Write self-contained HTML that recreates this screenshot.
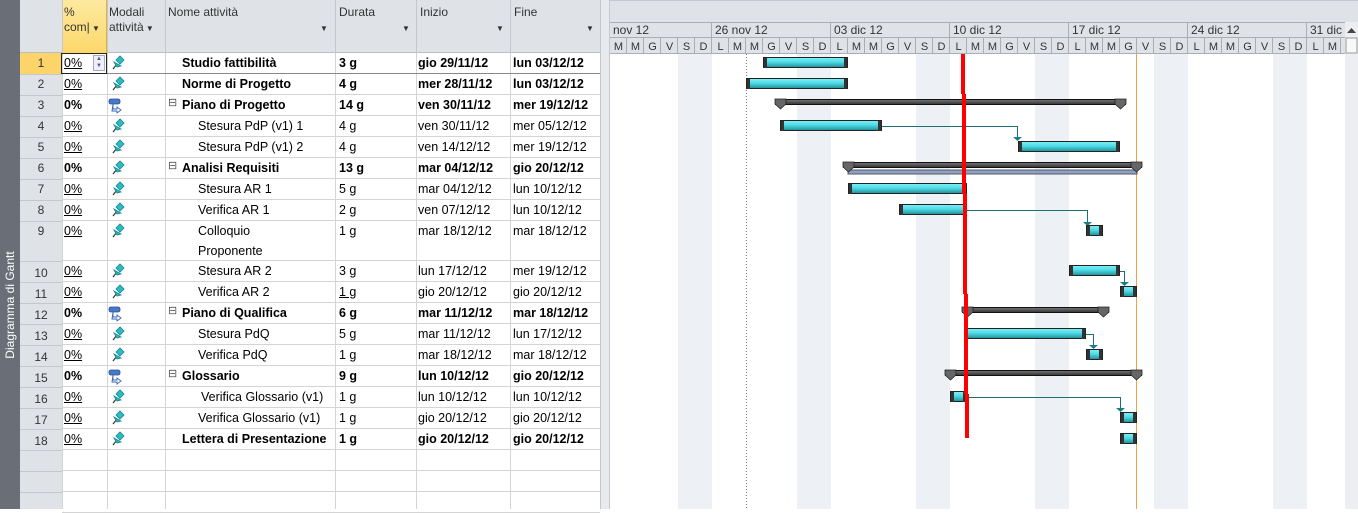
<!DOCTYPE html>
<html><head><meta charset="utf-8">
<style>
*{margin:0;padding:0;box-sizing:border-box}
body{width:1358px;height:509px;overflow:hidden;background:#fff;font-family:"Liberation Sans",sans-serif;font-size:12.5px;color:#000;position:relative}
.a{position:absolute;white-space:nowrap}
.side{left:0;top:0;width:20px;height:509px;background:#6a6e76}
.side span{position:absolute;left:10px;top:305px;transform:translate(-50%,-50%) rotate(-90deg);color:#fff;font-size:12px;white-space:nowrap}
.hdr{left:20px;top:0;width:580px;height:53px;background:#dfe3e8;border-bottom:1px solid #b9bec6}
.hl{position:absolute;top:0;height:53px;border-left:1px solid #c4c8ce}
.ht{position:absolute;top:5px;font-size:12px;color:#333;line-height:15px}
.dd{position:absolute;top:24px;font-size:8px;color:#333}
.num{left:20px;width:42px;background:#dfe3e8;text-align:center;color:#333;font-size:12px}
.row{position:absolute;left:62px;width:538px;border-bottom:1px solid #d4d4d4}
.c{position:absolute;top:3px;font-size:12.5px}
.b{font-weight:bold}
.u{text-decoration:underline}
.vl{position:absolute;top:53px;height:456px;border-left:1px solid #d4d4d4}
.nl{position:absolute;left:20px;width:42px;border-top:1px solid #c4c8ce}
</style></head><body>
<div class="a side"><span>Diagramma di Gantt</span></div>
<div class="a hdr">
 <div style="position:absolute;left:42px;top:0;width:45px;height:53px;background:linear-gradient(#fde9a0,#fcd86a);border-left:1px solid #e0b040;border-right:1px solid #e0b040"></div>
 <div class="hl" style="left:42px"></div><div class="hl" style="left:87px"></div><div class="hl" style="left:145px"></div><div class="hl" style="left:315px"></div><div class="hl" style="left:396px"></div><div class="hl" style="left:490px"></div><div class="hl" style="left:580px"></div>
 <div class="ht" style="left:44px">%<br>com|<span style="font-size:8px"> ▼</span></div>
 <div class="ht" style="left:89px">Modali<br>attività<span style="font-size:8px"> ▼</span></div>
 <div class="ht" style="left:148px">Nome attività</div><div class="dd" style="left:300px">▼</div>
 <div class="ht" style="left:319px">Durata</div><div class="dd" style="left:382px">▼</div>
 <div class="ht" style="left:400px">Inizio</div><div class="dd" style="left:476px">▼</div>
 <div class="ht" style="left:494px">Fine</div><div class="dd" style="left:566px">▼</div>
</div>
<div class="a num" style="top:53px;height:456px"></div>
<div class="a" style="left:20px;top:53px;width:42px;height:21px;background:#fcd46a"></div>
<div class="nl" style="top:74px"></div><div class="nl" style="top:95px"></div><div class="nl" style="top:116px"></div><div class="nl" style="top:137px"></div><div class="nl" style="top:158px"></div><div class="nl" style="top:179px"></div><div class="nl" style="top:200px"></div><div class="nl" style="top:221px"></div><div class="nl" style="top:261px"></div><div class="nl" style="top:282px"></div><div class="nl" style="top:303px"></div><div class="nl" style="top:324px"></div><div class="nl" style="top:345px"></div><div class="nl" style="top:366px"></div><div class="nl" style="top:387px"></div><div class="nl" style="top:408px"></div><div class="nl" style="top:429px"></div><div class="nl" style="top:450px"></div><div class="nl" style="top:471px"></div><div class="nl" style="top:492px"></div>
<div class="a" style="left:600px;top:0;width:10px;height:509px;background:#e8eaed;border-left:1px solid #c4c8ce;border-right:1px solid #c4c8ce"></div>
<div class="vl" style="left:62px"></div><div class="vl" style="left:107px"></div><div class="vl" style="left:165px"></div><div class="vl" style="left:335px"></div><div class="vl" style="left:416px"></div><div class="vl" style="left:510px"></div>

<svg width="0" height="0" style="position:absolute"><defs>
<g id="pin"><path d="M4 14 L8 9" stroke="#333" stroke-width="1.2"/><path d="M7 5 L11 1 L15 5 L11 9 Z M5 7 L12 11 L8 12 Z" fill="#2bbcc4" stroke="#15858c" stroke-width=".8"/></g>
<g id="sum"><rect x="2" y="1" width="11" height="5" rx="2" fill="#4a78c8" stroke="#2a4c90" stroke-width=".8"/><path d="M6 6 V11 H10 V9 L14 12 L10 15 V13 H5 Z" fill="#fff" stroke="#3a64b8" stroke-width=".9"/></g>
</defs></svg>

<div class="a" style="left:0;top:0;width:600px;height:509px">
<div class="row" style="top:53px;height:21px;border-bottom:1px solid #888"><div class="c u" style="left:2px">0%</div><div style="position:absolute;left:31px;top:2px;width:12px;height:16px;border:1px solid #aab;background:#eef;font-size:6px;line-height:7px;text-align:center;color:#557">▲<br>▼</div><div style="position:absolute;left:-1px;top:0;width:46px;height:21px;border:1px solid #222"></div><svg class="a" style="left:47px;top:2px" width="16" height="16"><use href="#pin"/></svg><div class="c b" style="left:120px">Studio fattibilità</div><div class="c b" style="left:277px">3 g</div><div class="c b" style="left:356px">gio 29/11/12</div><div class="c b" style="left:451px">lun 03/12/12</div></div>
<div class="row" style="top:74px;height:21px"><div class="c u" style="left:2px">0%</div><svg class="a" style="left:47px;top:2px" width="16" height="16"><use href="#pin"/></svg><div class="c b" style="left:120px">Norme di Progetto</div><div class="c b" style="left:277px">4 g</div><div class="c b" style="left:356px">mer 28/11/12</div><div class="c b" style="left:451px">lun 03/12/12</div></div>
<div class="row" style="top:95px;height:21px"><div class="c b" style="left:2px">0%</div><svg class="a" style="left:45px;top:3px" width="16" height="16"><use href="#sum"/></svg><div class="c" style="left:106px;top:1px;font-size:11px;color:#555">⊟</div><div class="c b" style="left:120px">Piano di Progetto</div><div class="c b" style="left:277px">14 g</div><div class="c b" style="left:356px">ven 30/11/12</div><div class="c b" style="left:451px">mer 19/12/12</div></div>
<div class="row" style="top:116px;height:21px"><div class="c u" style="left:2px">0%</div><svg class="a" style="left:47px;top:2px" width="16" height="16"><use href="#pin"/></svg><div class="c" style="left:136px">Stesura PdP (v1) 1</div><div class="c" style="left:277px">4 g</div><div class="c" style="left:356px">ven 30/11/12</div><div class="c" style="left:451px">mer 05/12/12</div></div>
<div class="row" style="top:137px;height:21px"><div class="c u" style="left:2px">0%</div><svg class="a" style="left:47px;top:2px" width="16" height="16"><use href="#pin"/></svg><div class="c" style="left:136px">Stesura PdP (v1) 2</div><div class="c" style="left:277px">4 g</div><div class="c" style="left:356px">ven 14/12/12</div><div class="c" style="left:451px">mer 19/12/12</div></div>
<div class="row" style="top:158px;height:21px"><div class="c b" style="left:2px">0%</div><svg class="a" style="left:47px;top:2px" width="16" height="16"><use href="#pin"/></svg><div class="c" style="left:106px;top:1px;font-size:11px;color:#555">⊟</div><div class="c b" style="left:120px">Analisi Requisiti</div><div class="c b" style="left:277px">13 g</div><div class="c b" style="left:356px">mar 04/12/12</div><div class="c b" style="left:451px">gio 20/12/12</div></div>
<div class="row" style="top:179px;height:21px"><div class="c u" style="left:2px">0%</div><svg class="a" style="left:47px;top:2px" width="16" height="16"><use href="#pin"/></svg><div class="c" style="left:136px">Stesura AR 1</div><div class="c" style="left:277px">5 g</div><div class="c" style="left:356px">mar 04/12/12</div><div class="c" style="left:451px">lun 10/12/12</div></div>
<div class="row" style="top:200px;height:21px"><div class="c u" style="left:2px">0%</div><svg class="a" style="left:47px;top:2px" width="16" height="16"><use href="#pin"/></svg><div class="c" style="left:136px">Verifica AR 1</div><div class="c" style="left:277px">2 g</div><div class="c" style="left:356px">ven 07/12/12</div><div class="c" style="left:451px">lun 10/12/12</div></div>
<div class="row" style="top:221px;height:40px"><div class="c u" style="left:2px">0%</div><svg class="a" style="left:47px;top:2px" width="16" height="16"><use href="#pin"/></svg><div class="c" style="left:136px;line-height:20px;top:0">Colloquio<br>Proponente</div><div class="c" style="left:277px">1 g</div><div class="c" style="left:356px">mar 18/12/12</div><div class="c" style="left:451px">mar 18/12/12</div></div>
<div class="row" style="top:261px;height:21px"><div class="c u" style="left:2px">0%</div><svg class="a" style="left:47px;top:2px" width="16" height="16"><use href="#pin"/></svg><div class="c" style="left:136px">Stesura AR 2</div><div class="c" style="left:277px">3 g</div><div class="c" style="left:356px">lun 17/12/12</div><div class="c" style="left:451px">mer 19/12/12</div></div>
<div class="row" style="top:282px;height:21px"><div class="c u" style="left:2px">0%</div><svg class="a" style="left:47px;top:2px" width="16" height="16"><use href="#pin"/></svg><div class="c" style="left:136px">Verifica AR 2</div><div class="c u" style="left:277px">1 g</div><div class="c" style="left:356px">gio 20/12/12</div><div class="c" style="left:451px">gio 20/12/12</div></div>
<div class="row" style="top:303px;height:21px"><div class="c b" style="left:2px">0%</div><svg class="a" style="left:45px;top:3px" width="16" height="16"><use href="#sum"/></svg><div class="c" style="left:106px;top:1px;font-size:11px;color:#555">⊟</div><div class="c b" style="left:120px">Piano di Qualifica</div><div class="c b" style="left:277px">6 g</div><div class="c b" style="left:356px">mar 11/12/12</div><div class="c b" style="left:451px">mar 18/12/12</div></div>
<div class="row" style="top:324px;height:21px"><div class="c u" style="left:2px">0%</div><svg class="a" style="left:47px;top:2px" width="16" height="16"><use href="#pin"/></svg><div class="c" style="left:136px">Stesura PdQ</div><div class="c" style="left:277px">5 g</div><div class="c" style="left:356px">mar 11/12/12</div><div class="c" style="left:451px">lun 17/12/12</div></div>
<div class="row" style="top:345px;height:21px"><div class="c u" style="left:2px">0%</div><svg class="a" style="left:47px;top:2px" width="16" height="16"><use href="#pin"/></svg><div class="c" style="left:136px">Verifica PdQ</div><div class="c" style="left:277px">1 g</div><div class="c" style="left:356px">mar 18/12/12</div><div class="c" style="left:451px">mar 18/12/12</div></div>
<div class="row" style="top:366px;height:21px"><div class="c b" style="left:2px">0%</div><svg class="a" style="left:45px;top:3px" width="16" height="16"><use href="#sum"/></svg><div class="c" style="left:106px;top:1px;font-size:11px;color:#555">⊟</div><div class="c b" style="left:120px">Glossario</div><div class="c b" style="left:277px">9 g</div><div class="c b" style="left:356px">lun 10/12/12</div><div class="c b" style="left:451px">gio 20/12/12</div></div>
<div class="row" style="top:387px;height:21px"><div class="c u" style="left:2px">0%</div><svg class="a" style="left:47px;top:2px" width="16" height="16"><use href="#pin"/></svg><div class="c" style="left:139px">Verifica Glossario (v1)</div><div class="c" style="left:277px">1 g</div><div class="c" style="left:356px">lun 10/12/12</div><div class="c" style="left:451px">lun 10/12/12</div></div>
<div class="row" style="top:408px;height:21px"><div class="c u" style="left:2px">0%</div><svg class="a" style="left:47px;top:2px" width="16" height="16"><use href="#pin"/></svg><div class="c" style="left:136px">Verifica Glossario (v1)</div><div class="c" style="left:277px">1 g</div><div class="c" style="left:356px">gio 20/12/12</div><div class="c" style="left:451px">gio 20/12/12</div></div>
<div class="row" style="top:429px;height:21px"><div class="c u" style="left:2px">0%</div><svg class="a" style="left:47px;top:2px" width="16" height="16"><use href="#pin"/></svg><div class="c b" style="left:120px">Lettera di Presentazione</div><div class="c b" style="left:277px">1 g</div><div class="c b" style="left:356px">gio 20/12/12</div><div class="c b" style="left:451px">gio 20/12/12</div></div>
<div class="row" style="top:450px;height:21px"></div>
<div class="row" style="top:471px;height:21px"></div>
<div class="row" style="top:492px;height:21px"></div>
<div class="a" style="left:20px;top:53px;width:42px;font-size:12px;color:#333;text-align:center;line-height:21px">1<br>2<br>3<br>4<br>5<br>6<br>7<br>8<br>9<br><span style="line-height:19px"><br></span>10<br>11<br>12<br>13<br>14<br>15<br>16<br>17<br>18</div>
</div>

<svg class="a" style="left:610px;top:0" width="748" height="509" viewBox="610 0 748 509">
<defs>
<linearGradient id="tg" x1="0" y1="0" x2="0" y2="1"><stop offset="0" stop-color="#7ff0f7"/><stop offset=".45" stop-color="#50dbe6"/><stop offset="1" stop-color="#1f8e98"/></linearGradient>
<linearGradient id="sg" x1="0" y1="0" x2="0" y2="1"><stop offset="0" stop-color="#777"/><stop offset="1" stop-color="#333"/></linearGradient>
</defs>
<rect x="610" y="0" width="748" height="22" fill="#dfe3e8"/>
<rect x="610" y="22" width="735" height="31" fill="#dfe3e8"/>
<line x1="610" y1="0.5" x2="1358" y2="0.5" stroke="#c4c8ce"/>
<line x1="610" y1="22.5" x2="1345" y2="22.5" stroke="#a9aeb5"/>
<line x1="610" y1="37.5" x2="1345" y2="37.5" stroke="#a9aeb5"/>
<line x1="610" y1="53.5" x2="1345" y2="53.5" stroke="#a9aeb5"/>
<g fill="#edf0f5">
<rect x="678" y="54" width="34" height="455"/><rect x="797" y="54" width="34" height="455"/><rect x="916" y="54" width="34" height="455"/><rect x="1035" y="54" width="34" height="455"/><rect x="1154" y="54" width="34" height="455"/><rect x="1273" y="54" width="34" height="455"/>
</g>
<g stroke="#a9aeb5">
<line x1="711.5" y1="22" x2="711.5" y2="53"/><line x1="830.5" y1="22" x2="830.5" y2="53"/><line x1="949.5" y1="22" x2="949.5" y2="53"/><line x1="1068.5" y1="22" x2="1068.5" y2="53"/><line x1="1187.5" y1="22" x2="1187.5" y2="53"/><line x1="1306.5" y1="22" x2="1306.5" y2="53"/>
</g>
<g font-size="12" fill="#333" font-family="Liberation Sans, sans-serif">
<text x="613" y="34">nov 12</text><text x="715" y="34">26 nov 12</text><text x="834" y="34">03 dic 12</text><text x="953" y="34">10 dic 12</text><text x="1072" y="34">17 dic 12</text><text x="1191" y="34">24 dic 12</text><text x="1310" y="34">31 dic</text>
</g>
<g font-size="11" fill="#333" font-family="Liberation Sans, sans-serif" text-anchor="middle">
<text x="618.5" y="50">M</text><text x="635.5" y="50">M</text><text x="652.5" y="50">G</text><text x="669.5" y="50">V</text><text x="686.5" y="50">S</text><text x="703.5" y="50">D</text>
<text x="720.5" y="50">L</text><text x="737.5" y="50">M</text><text x="754.5" y="50">M</text><text x="771.5" y="50">G</text><text x="788.5" y="50">V</text><text x="805.5" y="50">S</text><text x="822.5" y="50">D</text>
<text x="839.5" y="50">L</text><text x="856.5" y="50">M</text><text x="873.5" y="50">M</text><text x="890.5" y="50">G</text><text x="907.5" y="50">V</text><text x="924.5" y="50">S</text><text x="941.5" y="50">D</text>
<text x="958.5" y="50">L</text><text x="975.5" y="50">M</text><text x="992.5" y="50">M</text><text x="1009.5" y="50">G</text><text x="1026.5" y="50">V</text><text x="1043.5" y="50">S</text><text x="1060.5" y="50">D</text>
<text x="1077.5" y="50">L</text><text x="1094.5" y="50">M</text><text x="1111.5" y="50">M</text><text x="1128.5" y="50">G</text><text x="1145.5" y="50">V</text><text x="1162.5" y="50">S</text><text x="1179.5" y="50">D</text>
<text x="1196.5" y="50">L</text><text x="1213.5" y="50">M</text><text x="1230.5" y="50">M</text><text x="1247.5" y="50">G</text><text x="1264.5" y="50">V</text><text x="1281.5" y="50">S</text><text x="1298.5" y="50">D</text>
<text x="1315.5" y="50">L</text><text x="1332.5" y="50">M</text>
</g>
<g stroke="#a9aeb5" stroke-width="1">
<path d="M626.5 38V53M643.5 38V53M660.5 38V53M677.5 38V53M694.5 38V53M728.5 38V53M745.5 38V53M762.5 38V53M779.5 38V53M796.5 38V53M813.5 38V53M847.5 38V53M864.5 38V53M881.5 38V53M898.5 38V53M915.5 38V53M932.5 38V53M966.5 38V53M983.5 38V53M1000.5 38V53M1017.5 38V53M1034.5 38V53M1051.5 38V53M1085.5 38V53M1102.5 38V53M1119.5 38V53M1136.5 38V53M1153.5 38V53M1170.5 38V53M1204.5 38V53M1221.5 38V53M1238.5 38V53M1255.5 38V53M1272.5 38V53M1289.5 38V53M1323.5 38V53M1340.5 38V53"/>
</g>
<rect x="1345" y="22" width="13" height="487" fill="#eceef1"/>
<path d="M1347 33 L1351.5 28 L1356 33Z" fill="#444"/>
<rect x="1346" y="38" width="11" height="15" fill="#f8f8f8" stroke="#999"/>
<line x1="746.5" y1="54" x2="746.5" y2="509" stroke="#777" stroke-dasharray="1 2"/>
<line x1="1136.5" y1="54" x2="1136.5" y2="509" stroke="#f2a048" stroke-width="1"/>
<g stroke="#1a6f75" stroke-width="1" fill="none">
<path d="M882 126.5H1017.5V138"/><path d="M967 210.5H1087.5V225"/><path d="M1120 271.5H1124.5V285"/><path d="M1086 334.5H1093.5V348"/><path d="M967 397.5H1120.5V411"/>
</g>
<g fill="#1a7f86">
<path d="M1013 137H1022L1017.5 141Z"/><path d="M1083 222H1092L1087.5 226Z"/><path d="M1120 282H1129L1124.5 286Z"/><path d="M1089 345H1098L1093.5 349Z"/><path d="M1116 408H1125L1120.5 412Z"/>
</g>
<g stroke="#222" stroke-width="1">
<rect x="763.5" y="57.5" width="84" height="10" fill="url(#tg)"/>
<rect x="746.5" y="78.5" width="101" height="10" fill="url(#tg)"/>
<rect x="780.5" y="120.5" width="101" height="10" fill="url(#tg)"/>
<rect x="1018.5" y="141.5" width="101" height="10" fill="url(#tg)"/>
<rect x="848.5" y="183.5" width="118" height="10" fill="url(#tg)"/>
<rect x="899.5" y="204.5" width="67" height="10" fill="url(#tg)"/>
<rect x="1086.5" y="225.5" width="16" height="10" fill="url(#tg)"/>
<rect x="1069.5" y="265.5" width="50" height="10" fill="url(#tg)"/>
<rect x="1120.5" y="286.5" width="16" height="10" fill="url(#tg)"/>
<rect x="967.5" y="328.5" width="118" height="10" fill="url(#tg)"/>
<rect x="1086.5" y="349.5" width="16" height="10" fill="url(#tg)"/>
<rect x="950.5" y="391.5" width="16" height="10" fill="url(#tg)"/>
<rect x="1120.5" y="412.5" width="16" height="10" fill="url(#tg)"/>
<rect x="1120.5" y="433.5" width="16" height="10" fill="url(#tg)"/>
</g>
<g fill="#333">
<rect x="764" y="58" width="3" height="10"/><rect x="844" y="58" width="3" height="10"/>
<rect x="747" y="79" width="3" height="10"/><rect x="844" y="79" width="3" height="10"/>
<rect x="781" y="121" width="3" height="10"/><rect x="878" y="121" width="3" height="10"/>
<rect x="1019" y="142" width="3" height="10"/><rect x="1116" y="142" width="3" height="10"/>
<rect x="849" y="184" width="3" height="10"/><rect x="900" y="205" width="3" height="10"/>
<rect x="1070" y="266" width="3" height="10"/><rect x="1116" y="266" width="3" height="10"/>
<rect x="1082" y="329" width="3" height="10"/>
<rect x="1087" y="226" width="3" height="10"/><rect x="1099" y="226" width="3" height="10"/>
<rect x="1121" y="287" width="3" height="10"/><rect x="1133" y="287" width="3" height="10"/>
<rect x="1087" y="350" width="3" height="10"/><rect x="1099" y="350" width="3" height="10"/>
<rect x="951" y="392" width="3" height="10"/><rect x="963" y="392" width="3" height="10"/>
<rect x="1121" y="413" width="3" height="10"/><rect x="1133" y="413" width="3" height="10"/>
<rect x="1121" y="434" width="3" height="10"/><rect x="1133" y="434" width="3" height="10"/>
</g>
<g stroke="#111" stroke-width="1">
<rect x="848" y="170" width="289" height="4" fill="#8ea3c4" stroke="#556"/>
<rect x="775.5" y="99.5" width="350" height="5" fill="url(#sg)"/>
<rect x="843.5" y="162.5" width="298" height="5" fill="url(#sg)"/>
<rect x="962.5" y="307.5" width="146" height="5" fill="url(#sg)"/>
<rect x="945.5" y="370.5" width="196" height="5" fill="url(#sg)"/>
</g>
<g fill="#666" stroke="#222" stroke-width=".8">
<path d="M775 99H786V104L780.5 109L775 104Z"/><path d="M1115 99H1126V104L1120.5 109L1115 104Z"/>
<path d="M843 162H854V167L848.5 172L843 167Z"/><path d="M1131 162H1142V167L1136.5 172L1131 167Z"/>
<path d="M962 307H973V312L967.5 317L962 312Z"/><path d="M1098 307H1109V312L1103.5 317L1098 312Z"/>
<path d="M945 370H956V375L950.5 380L945 375Z"/><path d="M1131 370H1142V375L1136.5 380L1131 375Z"/>
</g>
<g fill="#ff0000">
<rect x="961" y="54" width="4" height="40"/><rect x="962" y="94" width="4" height="100"/><rect x="963" y="194" width="4" height="100"/><rect x="964" y="294" width="4" height="100"/><rect x="965" y="394" width="4" height="44"/>
</g>
</svg>
</body></html>
